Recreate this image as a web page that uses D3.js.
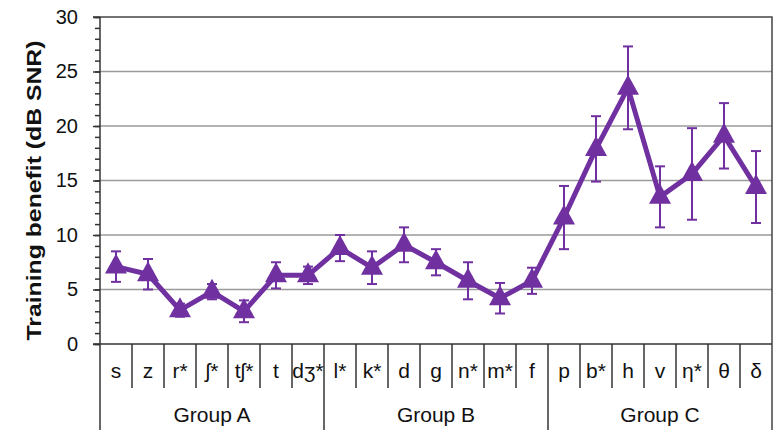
<!DOCTYPE html>
<html>
<head>
<meta charset="utf-8">
<script src="https://cdn.jsdelivr.net/npm/d3@7"></script>
<style>
  body { margin: 0; background: #fff; }
  text { font-family: "Liberation Sans", Arial, sans-serif; fill: #111; }
</style>
</head>
<body>
<div id="chart"></div>
<script>
const phonemes = ["s", "z", "r*", "ʃ*", "tʃ*", "t", "dʒ*", "l*", "k*", "d", "g", "n*", "m*", "f", "p", "b*", "h", "v", "η*", "θ", "δ"];
const benefit = [7.1, 6.4, 3.1, 4.8, 3.0, 6.3, 6.3, 8.8, 7.0, 9.1, 7.5, 5.8, 4.2, 5.8, 11.6, 17.9, 23.5, 13.5, 15.6, 19.1, 14.4];
const errors = [1.4, 1.4, 0.6, 0.7, 1.0, 1.2, 0.8, 1.2, 1.5, 1.6, 1.2, 1.7, 1.4, 1.2, 2.9, 3.0, 3.8, 2.8, 4.2, 3.0, 3.3];
const groups = ["Group A", "Group B", "Group C"];
const groupSizes = [7, 7, 7];
const yTicks = [0, 5, 10, 15, 20, 25, 30];

const width = 777,
    height = 434,
    margin = ({ top: 17, right: 5, bottom: 90, left: 100 });
const purple = "#7030a0";

const svg = d3.select("#chart")
    .append("svg")
    .attr("width", width)
    .attr("height", height);

const data = phonemes.map((p, i) => ({ p: p, v: benefit[i], e: errors[i] }));

let x = d3.scaleBand()
    .domain(phonemes)
    .range([margin.left, width - margin.right]);

let y = d3.scaleLinear()
    .domain([0, 30])
    .range([height - margin.bottom, margin.top]);

const x0 = margin.left, x1 = width - margin.right;
const yBase = y(0);

// gridlines
svg.append("g")
  .selectAll("line")
  .data(yTicks.filter(d => d > 0 && d < 30))
  .join("line")
    .attr("x1", x0).attr("x2", x1)
    .attr("y1", d => y(d)).attr("y2", d => y(d))
    .attr("stroke", "#9a9a9a")
    .attr("stroke-width", 1.5);

// top + right frame
svg.append("path")
    .attr("d", `M${x0 - 7},${y(30)}H${x1}V${height - 4}`)
    .attr("fill", "none")
    .attr("stroke", "#444")
    .attr("stroke-width", 1.5);

// y axis: minor ticks then major
svg.append("g")
    .attr("transform", `translate(${x0},0)`)
    .call(d3.axisLeft(y).tickValues(d3.range(0, 31)).tickSize(5).tickFormat(""))
    .call(g => g.select(".domain").remove())
    .call(g => g.selectAll("line").attr("stroke", "#333").attr("stroke-width", 1.5));

svg.append("g")
    .attr("transform", `translate(${x0},0)`)
    .call(d3.axisLeft(y).tickValues(yTicks).tickSize(7).tickPadding(15).tickSizeOuter(0))
    .call(g => g.select(".domain").remove())
    .call(g => g.selectAll("line").attr("stroke", "#333").attr("stroke-width", 1.5))
    .call(g => g.selectAll("text").attr("font-size", 20).attr("fill", "#111")
      .attr("font-family", "Liberation Sans, Arial, sans-serif"));

// left axis line runs down through the category rows
svg.append("line")
    .attr("x1", x0).attr("x2", x0)
    .attr("y1", y(30)).attr("y2", height - 4)
    .attr("stroke", "#333").attr("stroke-width", 1.5);

// x axis line
svg.append("line")
    .attr("x1", x0 - 7).attr("x2", x1)
    .attr("y1", yBase).attr("y2", yBase)
    .attr("stroke", "#333").attr("stroke-width", 1.5);

// category dividers
const bounds = phonemes.slice(1).map(p => x(p));
let groupEdges = [], acc = 0;
groupSizes.forEach(n => { acc += n; groupEdges.push(acc); });

svg.append("g")
  .selectAll("line")
  .data(bounds)
  .join("line")
    .attr("x1", d => d).attr("x2", d => d)
    .attr("y1", yBase)
    .attr("y2", (d, i) => groupEdges.includes(i + 1) ? height - 4 : yBase + 44)
    .attr("stroke", "#333").attr("stroke-width", 1.5);

svg.append("g")
  .selectAll("text")
  .data(phonemes)
  .join("text")
    .attr("x", d => x(d) + x.bandwidth() / 2)
    .attr("y", yBase + 34)
    .attr("text-anchor", "middle")
    .attr("font-size", 21)
    .text(d => d);

// group labels
let start = 0;
groups.forEach((g, i) => {
  const a = x(phonemes[start]);
  const b = x(phonemes[start + groupSizes[i] - 1]) + x.bandwidth();
  svg.append("text")
      .attr("x", (a + b) / 2)
      .attr("y", height - 12)
      .attr("text-anchor", "middle")
      .attr("font-size", 21)
      .text(g);
  start += groupSizes[i];
});

// y title
svg.append("text")
    .attr("transform", `translate(41,${(y(0) + y(30)) / 2 + 10}) rotate(-90)`)
    .attr("text-anchor", "middle")
    .attr("font-size", 21)
    .attr("font-weight", "bold")
    .attr("textLength", 300)
    .attr("lengthAdjust", "spacingAndGlyphs")
    .text("Training benefit (dB SNR)");

const cx = d => x(d.p) + x.bandwidth() / 2;

// error bars
const eb = svg.append("g")
    .attr("stroke", purple)
    .attr("stroke-width", 2);
eb.selectAll(".stem")
  .data(data)
  .join("line")
    .attr("x1", cx).attr("x2", cx)
    .attr("y1", d => y(d.v + d.e)).attr("y2", d => y(d.v - d.e));
eb.selectAll(".capt")
  .data(data)
  .join("line")
    .attr("x1", d => cx(d) - 5).attr("x2", d => cx(d) + 5)
    .attr("y1", d => y(d.v + d.e)).attr("y2", d => y(d.v + d.e));
eb.selectAll(".capb")
  .data(data)
  .join("line")
    .attr("x1", d => cx(d) - 5).attr("x2", d => cx(d) + 5)
    .attr("y1", d => y(d.v - d.e)).attr("y2", d => y(d.v - d.e));

// the line
let line = d3.line()
    .x(cx)
    .y(d => y(d.v));

svg.append("path")
    .datum(data)
    .attr("d", line)
    .attr("fill", "none")
    .attr("stroke", purple)
    .attr("stroke-width", 5)
    .attr("stroke-linejoin", "round");

// triangle markers
svg.append("g")
  .selectAll("path")
  .data(data)
  .join("path")
    .attr("transform", d => `translate(${cx(d)},${y(d.v)})`)
    .attr("d", "M0,-13L11,7H-11Z")
    .attr("fill", purple);
</script>
</body>
</html>
